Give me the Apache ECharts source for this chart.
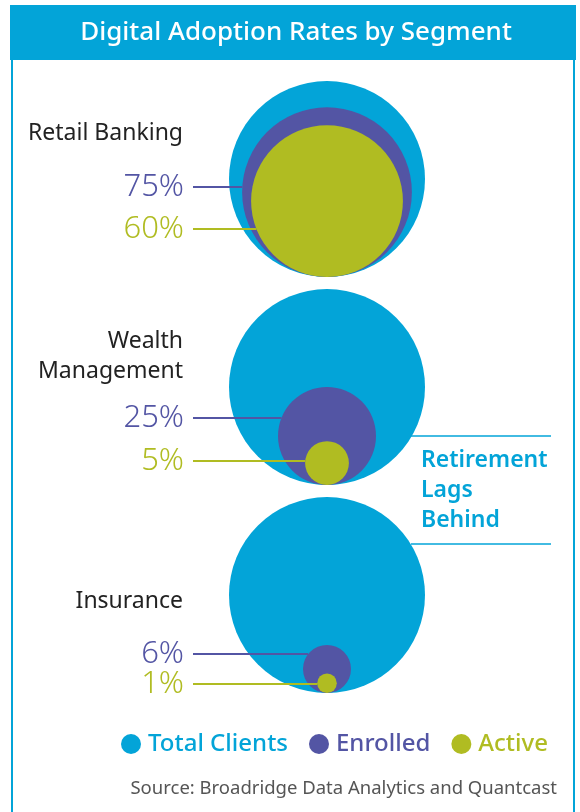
<!DOCTYPE html>
<html><head><meta charset="utf-8">
<script src="https://cdn.jsdelivr.net/npm/echarts@6/dist/echarts.min.js"></script>
<style>html,body{margin:0;padding:0;background:#fff}#c{width:580px;height:812px}</style>
</head><body><div id="c"></div>
<script>
// ---- data ----
const segments = ['Retail Banking', 'Wealth\nManagement', 'Insurance'];
const totalClients = [100, 100, 100];
const enrolled = [75, 25, 6];
const active = [60, 5, 1];
const seriesNames = ['Total Clients', 'Enrolled', 'Active'];
const titleText = 'Digital Adoption Rates by Segment';
const sourceText = 'Source: Broadridge Data Analytics and Quantcast';
const calloutText = 'Retirement\nLags\nBehind';

// ---- styles / layout ----
const C_TOTAL = '#03a4d8', C_ENR = '#5355a4', C_ACT = '#b0bc22';
const R = 98; // radius of 100%
const FONT = '"Noto Sans", "Open Sans", sans-serif';
const rad = v => R * Math.sqrt(v / 100);
// label offsets above each segment's baseline (layout only)
const nameDy = [-144, -129, -92];
const enrDy = [-90, -67, -39];
const actDy = [-48, -24, -9];

function circleData(vals) {
  return vals.map((v, i) => {
    const s = 2 * rad(v);
    return { value: [0.5, i, v], symbolSize: s, symbolOffset: [0, -s / 2] };
  });
}

const chart = echarts.init(document.getElementById('c'), null, { renderer: 'canvas' });

const option = {
  animation: false,
  grid: { left: 229, right: 155, top: 277, bottom: 119 },
  xAxis: { type: 'value', min: 0, max: 1, show: false },
  yAxis: { type: 'category', data: segments, inverse: true, boundaryGap: false, show: false },
  legend: {
    data: seriesNames.map((n, i) => ({ name: n, textStyle: { color: [C_TOTAL, C_ENR, C_ACT][i] } })),
    icon: 'circle', itemWidth: 20, itemHeight: 20, itemGap: 21,
    left: 116, top: 727,
    textStyle: { fontSize: 24, fontWeight: 500, fontFamily: FONT, padding: [0, 0, 0, 2] },
    selectedMode: false
  },
  graphic: [
    { type: 'rect', shape: { x: 10, y: 5, width: 566, height: 55 }, style: { fill: C_TOTAL }, z: 0 },
    { type: 'text', x: 296, y: 33, style: { text: titleText, fill: '#fff', font: '500 26px ' + FONT, textAlign: 'center', textVerticalAlign: 'middle' } },
    { type: 'line', shape: { x1: 12, y1: 60, x2: 12, y2: 812 }, style: { stroke: C_TOTAL, lineWidth: 2 } },
    { type: 'line', shape: { x1: 574, y1: 60, x2: 574, y2: 812 }, style: { stroke: C_TOTAL, lineWidth: 2 } },
    { type: 'line', shape: { x1: 411, y1: 436, x2: 551, y2: 436 }, style: { stroke: C_TOTAL, lineWidth: 1.5 } },
    { type: 'line', shape: { x1: 411, y1: 544, x2: 551, y2: 544 }, style: { stroke: C_TOTAL, lineWidth: 1.5 } },
    { type: 'text', x: 421, y: 490, style: { text: calloutText, fill: C_TOTAL, font: '600 23px ' + FONT, lineHeight: 30, textVerticalAlign: 'middle' } },
    { type: 'text', x: 557, y: 789, style: { text: sourceText, fill: '#555', font: '18.5px ' + FONT, textAlign: 'right', textVerticalAlign: 'middle' } }
  ],
  series: [
    { name: seriesNames[0], type: 'scatter', itemStyle: { color: C_TOTAL, opacity: 1 }, data: circleData(totalClients), z: 2 },
    { name: seriesNames[1], type: 'scatter', itemStyle: { color: C_ENR, opacity: 1 }, data: circleData(enrolled), z: 3 },
    { name: seriesNames[2], type: 'scatter', itemStyle: { color: C_ACT, opacity: 1 }, data: circleData(active), z: 4 },
    {
      type: 'custom', z: 5, silent: true,
      data: segments.map((s, i) => [0.5, i, enrolled[i], active[i]]),
      renderItem: function (params, api) {
        const i = params.dataIndex;
        const p = api.coord([api.value(0), api.value(1)]);
        const cx = p[0], yb = p[1];
        const children = [];
        const labelX = 184, lineX = 193;
        [[api.value(2), enrDy[i], C_ENR], [api.value(3), actDy[i], C_ACT]].forEach(([v, dy, col]) => {
          const r = rad(v), cy = yb - r, y = yb + dy;
          const d = Math.min(Math.abs(y - cy), r);
          const ex = cx - Math.sqrt(r * r - d * d);
          children.push({ type: 'line', shape: { x1: lineX, y1: y, x2: ex, y2: y }, style: { stroke: col, lineWidth: 2 } });
          children.push({ type: 'text', x: labelX, y: y, style: { text: v + '%', fill: col, font: '300 31px ' + FONT, textAlign: 'right', textVerticalAlign: 'middle' } });
        });
        children.push({ type: 'text', x: 183, y: yb + nameDy[i], style: { text: segments[i], fill: '#222', font: '23px ' + FONT, textAlign: 'right', textVerticalAlign: 'middle', lineHeight: 30 } });
        return { type: 'group', children: children };
      }
    }
  ]
};
chart.setOption(option);
</script>
</body></html>
